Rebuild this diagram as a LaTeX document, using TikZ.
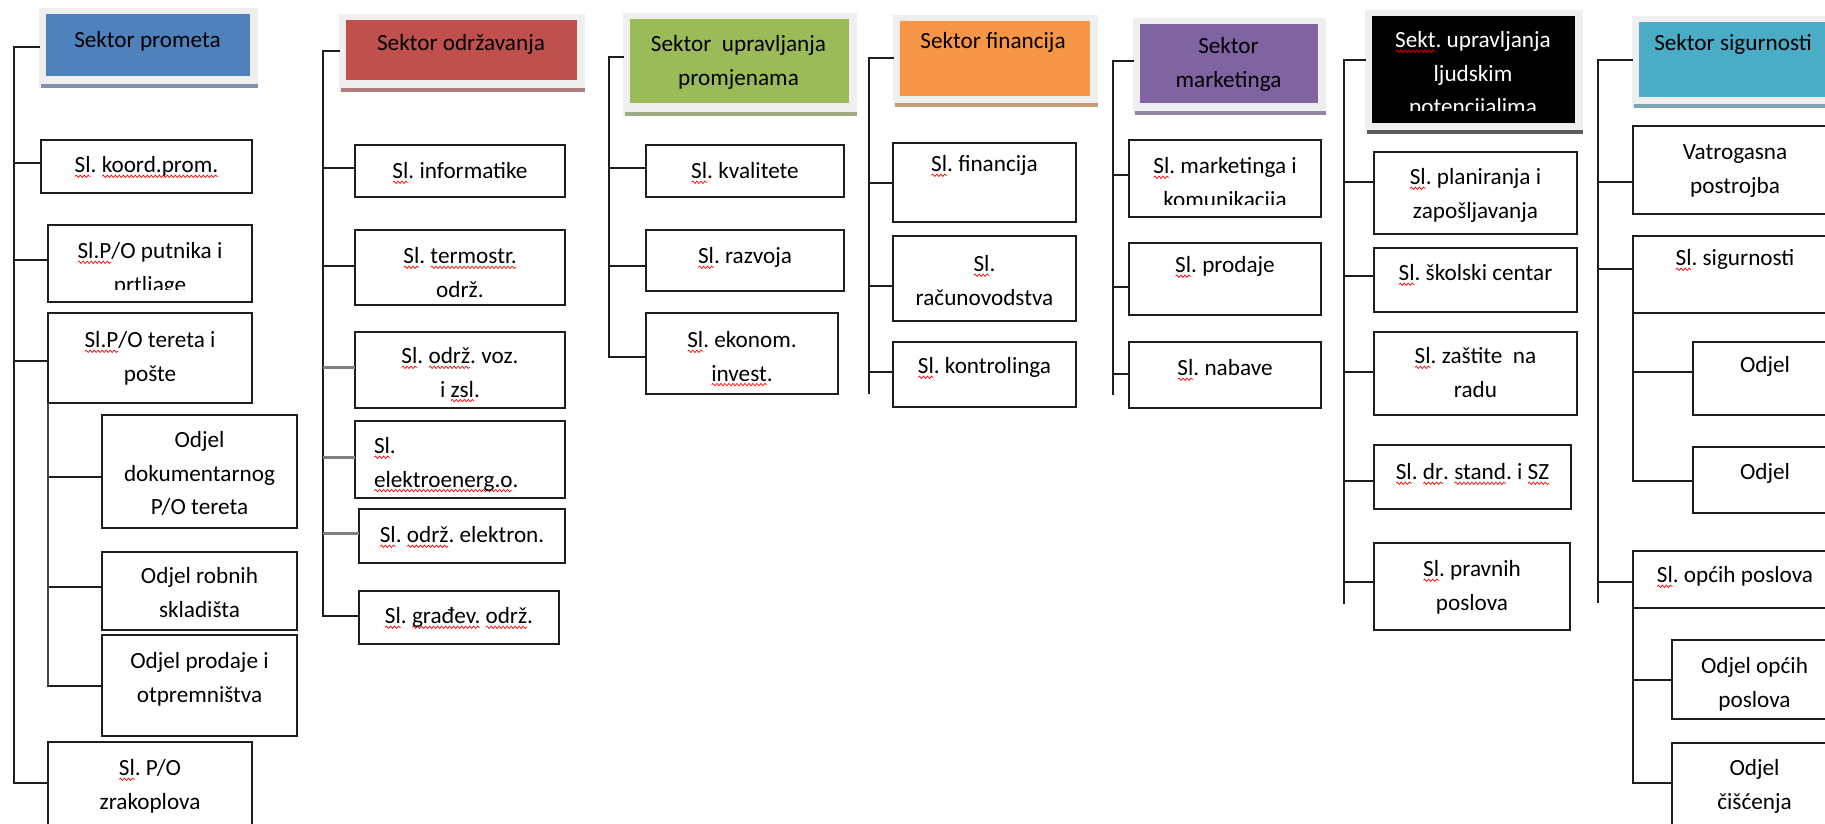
\documentclass[tikz,border=0pt]{standalone}
\usepackage{fontspec}
\setmainfont{Carlito}
\usetikzlibrary{calc,decorations.pathmorphing}
\definecolor{cBlue}{HTML}{4F81BD}
\definecolor{cRed}{HTML}{C0504D}
\definecolor{cGreen}{HTML}{9BBB59}
\definecolor{cOrange}{HTML}{F79646}
\definecolor{cPurple}{HTML}{8064A2}
\definecolor{cAqua}{HTML}{4BACC6}
\definecolor{frameGray}{HTML}{EFEFEF}
\definecolor{lineC}{HTML}{1E1E1E}
\frenchspacing
\newsavebox\sqbox
\newlength\sqlen
\newcommand\sq[1]{\sbox\sqbox{#1}\setlength\sqlen{\wd\sqbox}\leavevmode\rlap{\smash{\tikz[x=1pt,y=1pt,baseline=0pt]\draw[red,line width=0.7pt,decorate,decoration={snake,amplitude=1.2pt,segment length=4pt}] (0.5,-3.5) -- (\sqlen,-3.5);}}\usebox\sqbox}
\newcommand\NL{\\\strut}
\tikzset{
  ln/.style={draw=lineC, line width=2pt, line cap=rect},
  gln/.style={draw=black!50, line width=3pt},
  sln/.style={draw=gray!55!black, line width=2.5pt},
  boxn/.style={draw=lineC, line width=2pt, fill=white, inner sep=0pt, outer sep=0pt, anchor=north west},
  txt/.style={anchor=north, inner sep=0pt, outer sep=0pt, align=center, font=\fontsize{23.2}{33.3}\selectfont\frenchspacing, yshift=17.5pt, text=black},
  hframe/.style={fill=frameGray, inner sep=0pt, outer sep=0pt, anchor=north west},
  hfill/.style={inner sep=0pt, outer sep=0pt, anchor=north west, fill=#1},
}
\newcommand\bx[5]{\node[boxn, minimum width={(#4)-(#2)}, minimum height={(#5)-(#3)}] (#1) at (#2,#3) {};}
\newcommand\tx[5][]{\node[txt,#1] (#2) at (#3,#4) {\strut #5};}
\newcommand\conn[4][ln]{\path ($(#2.west)+(0,#3)$) coordinate (#2c); \draw[#1] (#2c) -- (#2c -| #4);}
\newcommand\hdr[7]{% name, color, fx1, fy1, fx2, fy2, bottom gap
  \node[hframe, minimum width={(#5)-(#3)}, minimum height={(#6)-(#4)}] (hf#1) at (#3,#4) {};
  \fill[#2!50!gray!85] ({#3+2},{#6-4}) rectangle (#5,#6);
  \node[hfill=#2, minimum width={(#5)-(#3)-15}, minimum height={(#6)-(#4)-6.5-(#7)}] (h#1) at ({#3+6.5},{#4+6.5}) {};
}
\begin{document}
\begin{tikzpicture}[x=1pt,y=-1pt]
\useasboundingbox (0,0) rectangle (1825,824);
\clip (0,0) rectangle (1825,824);
\fill[white] (0,0) rectangle (1825,824);

% ---------- headers ----------
\hdr{1}{cBlue}{39}{8}{258}{88}{12}
\hdr{2}{cRed}{339}{14}{585}{92}{12}
\hdr{3}{cGreen}{623}{13}{857}{116}{13}
\hdr{4}{cOrange}{893}{15}{1098}{107}{11}
\hdr{5}{cPurple}{1133}{18}{1326}{115}{12}
\hdr{6}{black}{1365}{10}{1583}{134}{11}
\hdr{7}{cAqua}{1632}{16}{1842}{108}{11}

\tx{th1}{147.5}{42}{Sektor prometa}
\tx{th2}{461}{45}{Sektor održavanja}
\tx{th3}{738.5}{46}{Sektor~ upravljanja\NL promjenama}
\tx{th4}{993}{43}{Sektor financija}
\tx{th5}{1228.5}{48}{Sektor\NL marketinga}
\begin{scope}
\clip (1372,16) rectangle (1574,111);
\tx[text=white]{th6}{1473}{42}{\sq{Sekt}. upravljanja\NL ljudskim\NL potencijalima}
\end{scope}
\tx{th7}{1733}{45}{Sektor sigurnosti}

% ---------- boxes ----------
\bx{b11}{41}{140}{252}{193}
\bx{b12}{48}{225}{252}{302}
\bx{b13}{48}{313}{252}{403}
\bx{b14}{102}{415}{297}{528}
\bx{b15}{102}{552}{297}{630}
\bx{b16}{102}{635}{297}{736}
\bx{b17}{48}{742}{252}{840}

\bx{b21}{355}{145}{565}{197}
\bx{b22}{355}{230}{565}{305}
\bx{b23}{355}{332}{565}{408}
\bx{b24}{355}{421}{565}{498}
\bx{b25}{359}{509}{565}{563}
\bx{b26}{359}{591}{559}{644}

\bx{b31}{646}{145}{844}{197}
\bx{b32}{646}{230}{844}{291}
\bx{b33}{646}{313}{838}{394}

\bx{b41}{893}{143}{1076}{222}
\bx{b42}{893}{236}{1076}{321}
\bx{b43}{893}{342}{1076}{407}

\bx{b51}{1129}{140}{1321}{217}
\bx{b52}{1129}{243}{1321}{315}
\bx{b53}{1129}{342}{1321}{408}

\bx{b61}{1374}{152}{1577}{234}
\bx{b62}{1374}{248}{1577}{312}
\bx{b63}{1374}{332}{1577}{415}
\bx{b64}{1374}{445}{1571}{509}
\bx{b65}{1374}{543}{1570}{630}

\bx{b71}{1633}{126}{1837}{214}
\bx{b72}{1633}{236}{1837}{313}
\bx{b73}{1693}{342}{1837}{415}
\bx{b74}{1693}{447}{1837}{513}
\bx{b75}{1633}{551}{1837}{608}
\bx{b76}{1672}{640}{1837}{719}
\bx{b77}{1672}{743}{1837}{840}

% ---------- texts ----------
\tx{t11}{146.5}{167}{\sq{Sl}. \sq{koord.prom.}}
\begin{scope}
\clip (48,225) rectangle (252,289);
\tx{t12}{150}{253}{\sq{Sl.P}/O putnika i\NL prtljage}
\end{scope}
\tx{t13}{150}{342}{\sq{Sl.P}/O tereta i\NL pošte}
\tx{t14}{199.5}{442}{Odjel\NL dokumentarnog\NL P/O tereta}
\tx{t15}{199.5}{578}{Odjel robnih\NL skladišta}
\tx{t16}{199.5}{663}{Odjel prodaje i\NL otpremništva}
\tx{t17}{150}{770}{\sq{Sl}. P/O\NL zrakoplova}

\tx{t21}{460}{173}{\sq{Sl}. informatike}
\tx{t22}{460}{258}{\sq{Sl}. \sq{termostr.}\NL održ.}
\tx{t23}{460}{358}{\sq{Sl}. \sq{održ}. voz.\NL i \sq{zsl}.}
\tx[anchor=north west, align=left]{t24}{374}{448}{\sq{Sl}.\NL \sq{elektroenerg.o}.}
\tx{t25}{462}{537}{\sq{Sl}. \sq{održ}. elektron.}
\tx{t26}{459}{618}{\sq{Sl}. \sq{građev.} \sq{održ}.}

\tx{t31}{745}{173}{\sq{Sl}. kvalitete}
\tx{t32}{745}{258}{\sq{Sl}. razvoja}
\tx{t33}{742}{342}{\sq{Sl}. ekonom.\NL \sq{invest}.}

\tx{t41}{984.5}{166}{\sq{Sl}. financija}
\tx{t42}{984.5}{266}{\sq{Sl}.\NL računovodstva}
\tx{t43}{984.5}{368}{\sq{Sl}. kontrolinga}

\begin{scope}
\clip (1129,140) rectangle (1321,204);
\tx{t51}{1225}{168}{\sq{Sl}. marketinga i\NL komunikacija}
\end{scope}
\tx{t52}{1225}{267}{\sq{Sl}. prodaje}
\tx{t53}{1225}{370}{\sq{Sl}. nabave}

\tx{t61}{1475.5}{179}{\sq{Sl}. planiranja i\NL zapošljavanja}
\tx{t62}{1475.5}{275}{\sq{Sl}. školski centar}
\tx{t63}{1475.5}{358}{\sq{Sl}. zaštite~ na\NL radu}
\tx{t64}{1472.5}{474}{\sq{Sl}. \sq{dr}. \sq{stand}. i \sq{SZ}}
\tx{t65}{1472}{571}{\sq{Sl}. pravnih\NL poslova}

\tx{t71}{1735}{154}{Vatrogasna\NL postrojba}
\tx{t72}{1735}{260}{\sq{Sl}. sigurnosti}
\tx{t73}{1765}{367}{Odjel}
\tx{t74}{1765}{474}{Odjel}
\tx{t75}{1735}{577}{\sq{Sl}. općih poslova}
\tx{t76}{1754.5}{668}{Odjel općih\NL poslova}
\tx{t77}{1754.5}{770}{Odjel\NL čišćenja}

% ---------- trunks ----------
\coordinate (tk1) at (14,783);
\coordinate (tk2) at (323,616);
\coordinate (tk3) at (609,357);
\coordinate (tk4) at (869,393);
\coordinate (tk5) at (1113,394);
\coordinate (tk6) at (1344,603);
\coordinate (tk7) at (1598,602);
\path ($(hf1.west)+(0,-1)$) coordinate (hc1);
\path ($(hf2.west)+(0,-2)$) coordinate (hc2);
\path ($(hf3.west)+(0,-7.5)$) coordinate (hc3);
\path ($(hf4.west)+(0,-3)$) coordinate (hc4);
\path ($(hf5.west)+(0,-5.5)$) coordinate (hc5);
\path ($(hf6.west)+(0,-12)$) coordinate (hc6);
\path ($(hf7.west)+(0,-2)$) coordinate (hc7);
\foreach \i in {1,...,7} {\draw[ln] (hc\i) -| (tk\i);}

% ---------- connectors ----------
\conn{b11}{-3.5}{tk1}
\conn{b12}{-3.5}{tk1}
\conn{b13}{3}{tk1}
\conn{b17}{-8}{tk1}
\conn{b14}{5.5}{b13.south west}
\conn{b15}{-4}{b13.south west}
\conn{b16}{0}{b13.south west}
\draw[sln] (b13.south west) -- (b13.south west |- b16c);

\conn{b21}{-3}{tk2}
\conn{b22}{-1.5}{tk2}
\conn[gln]{b23}{-3}{tk2}
\conn[gln]{b24}{-2.5}{tk2}
\conn[gln]{b25}{-3}{tk2}
\conn{b26}{-1.5}{tk2}

\conn{b31}{-3}{tk3}
\conn{b32}{5.5}{tk3}
\conn{b33}{3.5}{tk3}

\conn{b41}{0}{tk4}
\conn{b42}{7.5}{tk4}
\conn{b43}{-2.5}{tk4}

\conn{b51}{-3.5}{tk5}
\conn{b52}{8}{tk5}
\conn{b53}{-1}{tk5}

\conn{b61}{-11}{tk6}
\conn{b62}{-4}{tk6}
\conn{b63}{-1.5}{tk6}
\conn{b64}{4}{tk6}
\conn{b65}{-4.5}{tk6}

\conn{b71}{12}{tk7}
\conn{b72}{-5.5}{tk7}
\conn{b75}{2.5}{tk7}
\conn{b73}{-6.5}{b72.south west}
\conn{b74}{1}{b72.south west}
\draw[ln] (b72.south west) -- (b72.south west |- b74c);
\conn{b76}{0.5}{b75.south west}
\conn{b77}{-8.5}{b75.south west}
\draw[ln] (b75.south west) -- (b75.south west |- b77c);
\end{tikzpicture}
\end{document}
